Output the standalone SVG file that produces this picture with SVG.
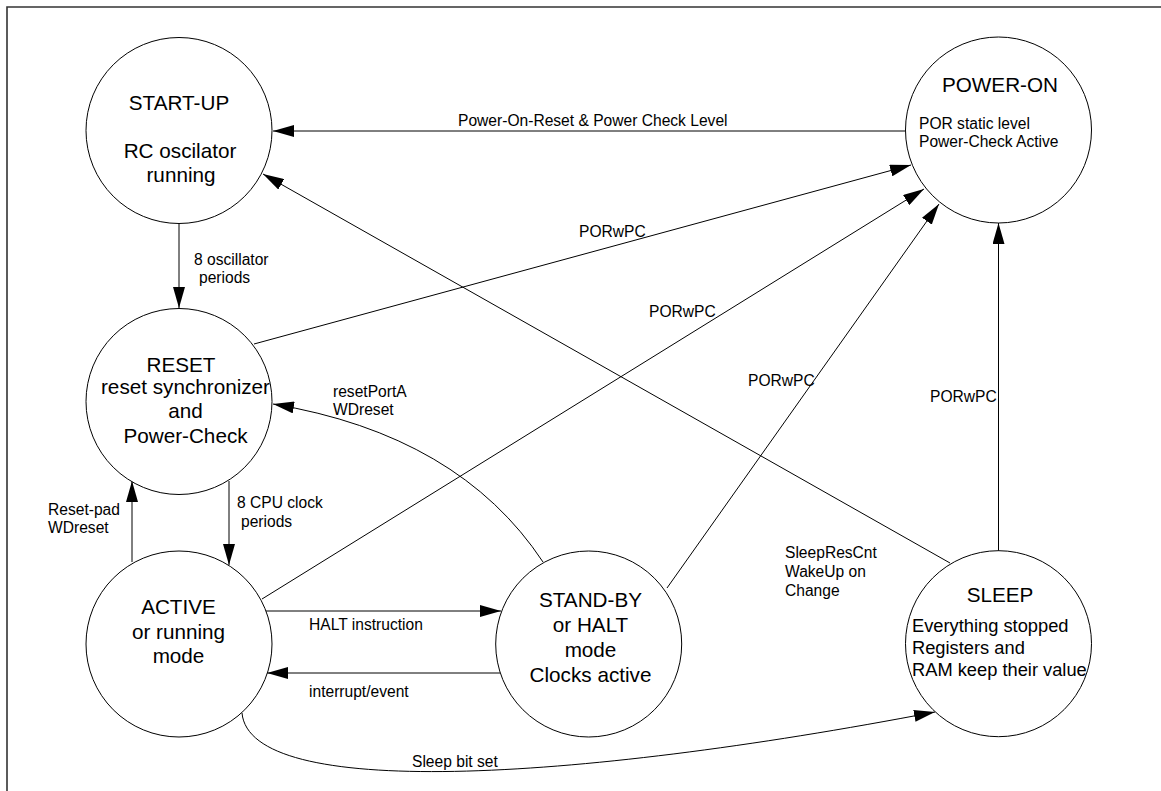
<svg xmlns="http://www.w3.org/2000/svg" width="1161" height="791" viewBox="0 0 1161 791">
<style>
  .node { fill: #ffffff; stroke: #000000; stroke-width: 1; }
  .title { font-family: "Liberation Sans", Arial, sans-serif; font-size: 20.7px; fill: #000; text-anchor: middle; }
  .body { font-family: "Liberation Sans", Arial, sans-serif; font-size: 15.6px; fill: #000; }
  .sbody { font-family: "Liberation Sans", Arial, sans-serif; font-size: 18.3px; fill: #000; }
  .lbl { font-family: "Liberation Sans", Arial, sans-serif; font-size: 15.6px; fill: #000; }
  .conn { fill: none; stroke: #000000; stroke-width: 1; marker-end: url(#arrow); }
</style>
<defs>
  <marker id="arrow" markerUnits="userSpaceOnUse" markerWidth="21" markerHeight="12" refX="21" refY="6" orient="auto">
    <path d="M0,0 L21,6 L0,12 Z" fill="#000"/>
  </marker>
</defs>
<rect x="0" y="0" width="1161" height="791" fill="#ffffff"/>
<path d="M7,791 V7 H1161" fill="none" stroke="#333333" stroke-width="1.6"/>

<g id="connectors">
  <path class="conn" d="M905,131 L273,131"/>
  <path class="conn" d="M179,224 L179,308"/>
  <path class="conn" d="M254,344 L911,165"/>
  <path class="conn" d="M262,599 L924,189"/>
  <path class="conn" d="M667,588 L939,204"/>
  <path class="conn" d="M998.5,551 L998.5,223"/>
  <path class="conn" d="M950,563 L263,174"/>
  <path class="conn" d="M132,562 L132,481"/>
  <path class="conn" d="M229,481 L229,565"/>
  <path class="conn" d="M543,562 Q459,435 273,404"/>
  <path class="conn" d="M266,611 L501,611"/>
  <path class="conn" d="M500,673 L267,673"/>
  <path class="conn" d="M242,713 C250,800 570,782 935,712"/>

  <text class="lbl" x="458" y="125.5">Power-On-Reset &amp; Power Check Level</text>
  <text class="lbl" x="194" y="265">8 oscillator</text>
  <text class="lbl" x="199" y="283">periods</text>
  <text class="lbl" x="579" y="237">PORwPC</text>
  <text class="lbl" x="649" y="317">PORwPC</text>
  <text class="lbl" x="748" y="386">PORwPC</text>
  <text class="lbl" x="930" y="402">PORwPC</text>
  <text class="lbl" x="333" y="397">resetPortA</text>
  <text class="lbl" x="333" y="415">WDreset</text>
  <text class="lbl" x="48" y="515">Reset-pad</text>
  <text class="lbl" x="48" y="533">WDreset</text>
  <text class="lbl" x="237" y="508">8 CPU clock</text>
  <text class="lbl" x="241" y="527">periods</text>
  <text class="lbl" x="785" y="558">SleepResCnt</text>
  <text class="lbl" x="785" y="577">WakeUp on</text>
  <text class="lbl" x="785" y="596">Change</text>
  <text class="lbl" x="309" y="630">HALT instruction</text>
  <text class="lbl" x="309" y="697">interrupt/event</text>
  <text class="lbl" x="412" y="767">Sleep bit set</text>
</g>

<g id="startup">
  <circle class="node" cx="179" cy="130.5" r="93"/>
  <text class="title" x="179" y="110">START-UP</text>
  <text class="title" x="180" y="158">RC oscilator</text>
  <text class="title" x="181" y="181.5">running</text>
</g>

<g id="poweron">
  <circle class="node" cx="998.5" cy="130" r="93"/>
  <text class="title" x="1000" y="91.5">POWER-ON</text>
  <text class="body" x="919" y="128.5">POR static level</text>
  <text class="body" x="919" y="147">Power-Check Active</text>
</g>

<g id="reset">
  <circle class="node" cx="179" cy="401.5" r="93"/>
  <text class="title" x="181" y="371.5">RESET</text>
  <text class="title" x="185.5" y="394">reset synchronizer</text>
  <text class="title" x="185.5" y="418">and</text>
  <text class="title" x="185.5" y="442.5">Power-Check</text>
</g>

<g id="active">
  <circle class="node" cx="179" cy="644" r="93"/>
  <text class="title" x="178.5" y="614">ACTIVE</text>
  <text class="title" x="178.5" y="638.5">or running</text>
  <text class="title" x="178.5" y="663">mode</text>
</g>

<g id="standby">
  <circle class="node" cx="588.7" cy="644" r="93"/>
  <text class="title" x="590.5" y="607">STAND-BY</text>
  <text class="title" x="590.5" y="632">or HALT</text>
  <text class="title" x="590.5" y="657">mode</text>
  <text class="title" x="590.5" y="682">Clocks active</text>
</g>

<g id="sleep">
  <circle class="node" cx="998.5" cy="643.7" r="93"/>
  <text class="title" x="1000" y="602">SLEEP</text>
  <text class="sbody" x="912" y="632">Everything stopped</text>
  <text class="sbody" x="912" y="654">Registers and</text>
  <text class="sbody" x="912" y="675.5">RAM keep their value</text>
</g>
</svg>
